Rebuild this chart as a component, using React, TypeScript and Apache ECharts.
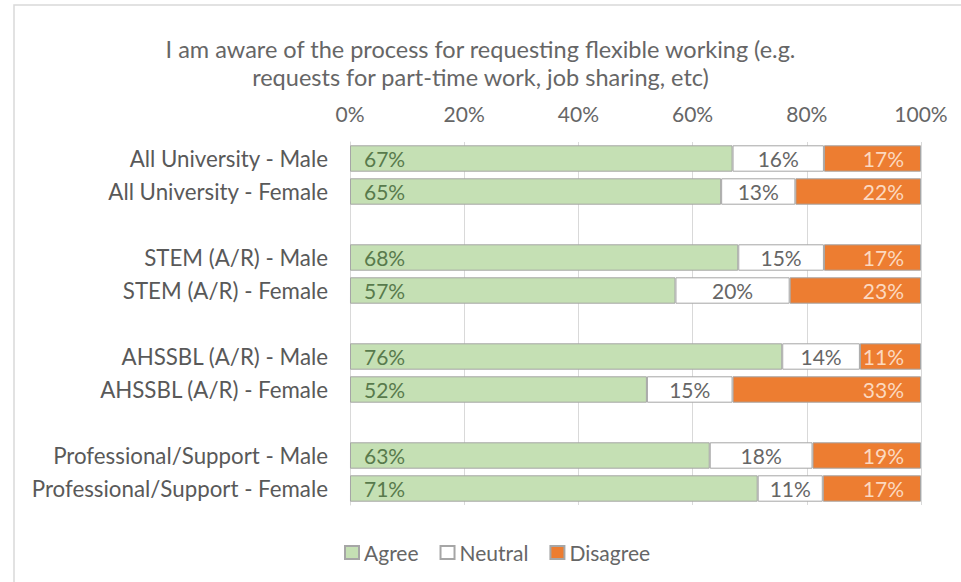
import React, { useEffect, useRef } from "react";
import * as echarts from "echarts";

const titleText = "I am aware of the process for requesting flexible working (e.g.\nrequests for part-time work, job sharing, etc)";
const categories = [
  "All University - Male",
  "All University - Female",
  "",
  "STEM (A/R) - Male",
  "STEM (A/R) - Female",
  " ",
  "AHSSBL (A/R) - Male",
  "AHSSBL (A/R) - Female",
  "  ",
  "Professional/Support - Male",
  "Professional/Support - Female",
];
const agree = [67, 65, null, 68, 57, null, 75.7, 52, null, 63, 71.4];
const neutral = [16, 13, null, 15, 20, null, 13.6, 15, null, 18, 11.4];
const disagree = [17, 22, null, 17, 23, null, 10.7, 33, null, 19, 17.2];
const seriesNames = ["Agree", "Neutral", "Disagree"];

const FONT = "Lato";

export default function App() {
  const ref = useRef<HTMLDivElement>(null);
  useEffect(() => {
    if (!ref.current) return;
    const chart = echarts.init(ref.current, null, { renderer: "svg" });
    const mk = (
      name: string,
      data: (number | null)[],
      color: string,
      labelColor: string,
      pos: string,
      distance: number
    ) => ({
      name,
      type: "bar",
      stack: "total",
      data,
      barCategoryGap: "20%",
      itemStyle: { color, borderColor: "#a6a6a6", borderWidth: 1 },
      label: {
        show: true,
        position: pos,
        formatter: (p: any) => (p.value == null ? "" : Math.round(p.value) + "%"),
        color: labelColor,
        fontSize: 21,
        fontFamily: FONT,
        distance,
      },
    });
    chart.setOption({
      animation: false,
      backgroundColor: "#ffffff",
      textStyle: { fontFamily: FONT },
      title: {
        text: titleText,
        left: "center",
        top: 30,
        textStyle: { fontFamily: FONT, fontSize: 23.5, fontWeight: "normal", color: "#666666", lineHeight: 28 },
      },
      graphic: [
        {
          type: "rect",
          shape: { x: 14, y: 5, width: 960, height: 600 },
          style: { fill: "none", stroke: "#d9d9d9", lineWidth: 1.5 },
          z: -10,
        },
      ],
      legend: {
        data: seriesNames,
        left: 339,
        top: 537,
        icon: "rect",
        itemWidth: 14,
        itemHeight: 13,
        itemGap: 21,
        textStyle: { color: "#666666", fontSize: 21, fontFamily: FONT },
      },
      grid: { left: 350, right: 40, top: 142, bottom: 77, containLabel: false },
      xAxis: {
        type: "value",
        position: "top",
        min: 0,
        max: 100,
        interval: 20,
        axisLabel: { formatter: "{value}%", color: "#666666", fontSize: 21, fontFamily: FONT, margin: 18 },
        splitLine: { show: true, lineStyle: { color: "#d9d9d9" } },
        axisLine: { show: false },
        axisTick: { show: false },
      },
      yAxis: {
        type: "category",
        inverse: true,
        data: categories,
        axisLabel: { color: "#595959", fontSize: 22.3, fontFamily: FONT, margin: 22 },
        axisLine: { show: true, lineStyle: { color: "#d9d9d9" } },
        axisTick: { show: false },
      },
      series: [
        mk("Agree", agree, "#c5e0b4", "#587a4c", "insideLeft", 14),
        mk("Neutral", neutral, "#ffffff", "#666666", "inside", 5),
        mk("Disagree", disagree, "#ed7d31", "#fcd9c0", "insideRight", 17),
      ],
    });
    return () => chart.dispose();
  }, []);
  return (
    <div
      ref={ref}
      style={{ position: "fixed", left: 0, top: 0, width: 961, height: 582 }}
    />
  );
}
